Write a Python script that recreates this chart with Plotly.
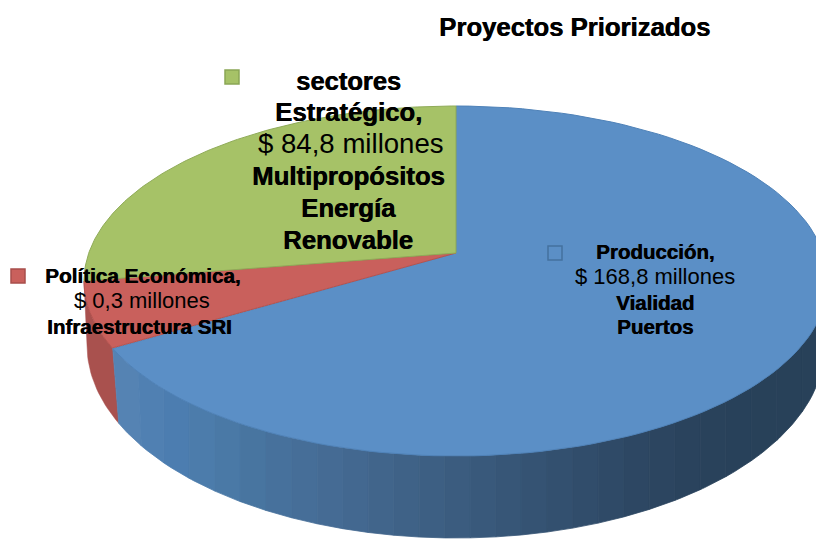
import math
import plotly.graph_objects as go

TITLE = "Proyectos Priorizados"
# Slice shares as drawn in the picture, clockwise from 12 o'clock
slice_names = ["Producción", "Política Económica", "Sectores Estratégico"]
slice_shares = [68.7, 6.3, 25.0]
top_colors = ["#5b8fc6", "#c9605c", "#a6c267"]
edge_colors = ["#4f82b8", "#b5534f", "#8fab58"]
side_colors = ["#4f7fb2", "#a9514e", "#8aa656"]
# Shading of the blue rim, left to right
rim_shades = ["#5583b3", "#5080b2", "#4c7db0", "#4c7cab", "#4a79a6", "#4875a0", "#47719c", "#466e98",
              "#456b94", "#436890", "#41658b", "#3f6287", "#3d5f83", "#3b5c7f", "#39597b", "#375677",
              "#355373", "#33506f", "#314d6b", "#2f4a67", "#2d4763", "#2c4560", "#2a435d", "#29425b",
              "#28415a", "#284159", "#284159", "#284159"]

producion_lines = ["Producción,", "$ 168,8 millones", "Vialidad", "Puertos"]
politica_lines = ["Política Económica,", "$ 0,3 millones", "Infraestructura SRI"]
sectores_lines = ["sectores", "Estratégico,", "$ 84,8 millones", "Multipropósitos", "Energía", "Renovable"]

W, H = 816, 539
AX, AY = 456, 253      # apex of the top face
CX, CY, RX, RY = 456, 281, 372, 175      # top ellipse
BX, BY, BRX, BRY = 456, 345, 369, 193    # bottom ellipse
RIM_LEAN = 6           # the rim's left boundary leans this far to the right on its way down


def top_pt(t):
    return CX + RX * math.cos(t), CY - RY * math.sin(t)


def bot_pt(t):
    return BX + BRX * math.cos(t), BY - BRY * math.sin(t)


def arc(fn, a, b, n=120):
    return [fn(a + (b - a) * i / n) for i in range(n + 1)]


def top_angle(x):
    return -math.acos(max(-1, min(1, (x - CX) / RX)))


def bot_angle(x):
    return -math.acos(max(-1, min(1, (x - BX) / BRX)))


fig = go.Figure()


def poly(pts, fill, line, width=1.0):
    fig.add_trace(go.Scatter(
        x=[p[0] for p in pts] + [pts[0][0]], y=[p[1] for p in pts] + [pts[0][1]],
        mode="lines", fill="toself", fillcolor=fill,
        line=dict(color=line, width=width), hoverinfo="skip", showlegend=False))


# angles clockwise from the top
total = sum(slice_shares)
edges = [math.pi / 2]
for s in slice_shares:
    edges.append(edges[-1] - 2 * math.pi * s / total)

# red rim
x_start = top_pt(edges[1])[0]
poly(arc(top_pt, edges[1], -math.pi, 20) + arc(bot_pt, -math.pi, bot_angle(x_start + RIM_LEAN), 20),
     side_colors[1], side_colors[1], 0.5)
# blue rim strips, from left boundary to the right edge
n = len(rim_shades)
for i, c in enumerate(rim_shades):
    x0 = x_start + (W + 12 - x_start) * i / n
    x1 = x_start + (W + 12 - x_start) * (i + 1) / n
    lean0 = RIM_LEAN * max(0, 1 - i / 2)
    lean1 = RIM_LEAN * max(0, 1 - (i + 1) / 2)
    poly(arc(top_pt, top_angle(x0), top_angle(x1), 12) +
         arc(bot_pt, bot_angle(x1 + lean1), bot_angle(x0 + lean0), 12), c, c, 0.8)

# top faces
for s in range(3):
    a, b = edges[s], edges[s + 1]
    poly([(AX, AY)] + arc(top_pt, a, b), top_colors[s], edge_colors[s], 1.0)

# legend keys
keys = [(555, 253, top_colors[0], "#44719f"), (18, 276, top_colors[1], "#a84e4b"), (232, 77, top_colors[2], "#8aa656")]
for kx, ky, c, e in keys:
    fig.add_trace(go.Scatter(x=[kx], y=[ky], mode="markers", hoverinfo="skip", showlegend=False,
                             marker=dict(symbol="square", size=14, color=c, line=dict(color=e, width=1.5))))

FONT = "Liberation Sans"


def label(txt, x, y, size, bold=True):
    fig.add_annotation(x=x, y=y, text=f"<b>{txt}</b>" if bold else txt, showarrow=False,
                       xanchor="center", yanchor="middle",
                       font=dict(family=FONT, size=size, color="#000000",
                                 shadow="0.6px 0 0 #000000" if bold else "none"))


label(TITLE, 574, 27, 25.7)
for txt, y, b, sz in zip(sectores_lines, [81, 112, 143, 176, 208, 240], [1, 1, 0, 1, 1, 1], [25.5, 25.7, 27.6, 25.7, 25.7, 25.7]):
    label(txt, 348 + (3 if not b else 0), y, sz, bool(b))
for txt, x, y, b, sz in zip(politica_lines, [142, 142, 139], [275, 300, 326], [1, 0, 1], [20.7, 22, 20.5]):
    label(txt, x, y, sz, bool(b))
for txt, y, b, sz in zip(producion_lines, [251, 276, 302, 326], [1, 0, 1, 1], [20.5, 22, 20.5, 20.5]):
    label(txt, 655, y, sz, bool(b))

fig.update_layout(
    width=W, height=H, margin=dict(l=0, r=0, t=0, b=0),
    paper_bgcolor="white", plot_bgcolor="white", showlegend=False,
    xaxis=dict(range=[0, W], visible=False, fixedrange=True),
    yaxis=dict(range=[H, 0], visible=False, fixedrange=True),
)
fig.write_html("out.html", config=dict(displayModeBar=False),
               post_script="document.body.style.margin='0';document.body.style.overflow='hidden';")
